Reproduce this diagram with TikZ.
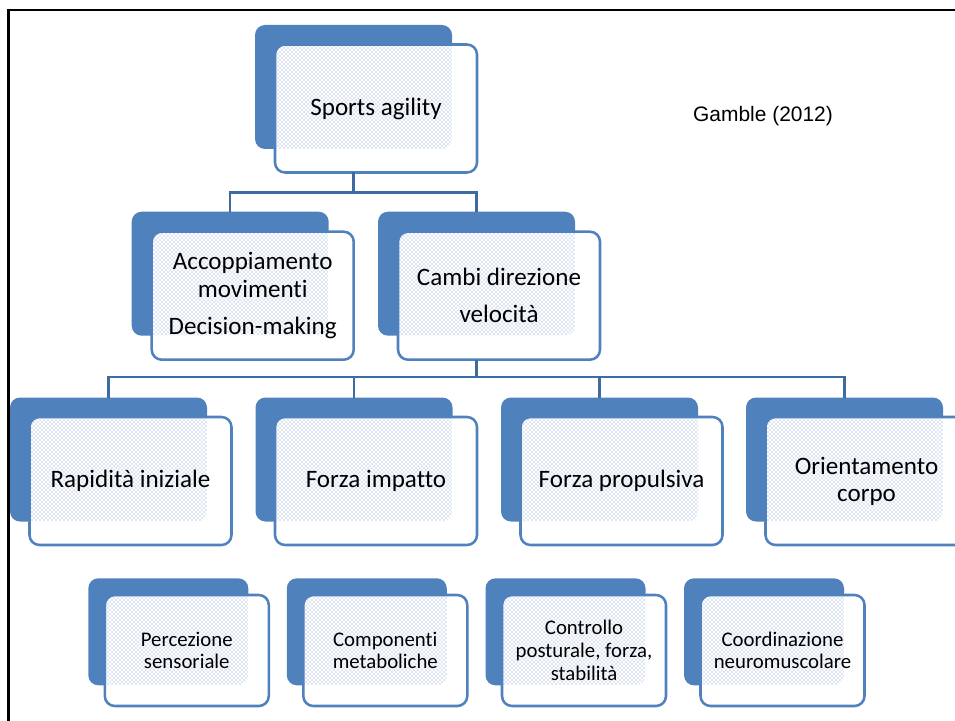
\documentclass[tikz,border=0pt]{standalone}
\usepackage{fontspec}
\setmainfont{Carlito}[Ligatures={NoCommon}]
\newfontfamily\arialfont{Liberation Sans}
\usetikzlibrary{calc,patterns}

\definecolor{accentblue}{RGB}{79,129,189}
\definecolor{linkblue}{RGB}{62,108,162}
\definecolor{dotblue}{RGB}{118,150,206}

\tikzset{
  every node/.style={outer sep=0pt, inner sep=0pt},
  bigback/.style={rectangle, rounded corners=7.5pt, fill=accentblue,
    minimum width=147.75pt, minimum height=93pt},
  bigfront/.style={rectangle, rounded corners=7.5pt, fill=white,
    minimum width=151.5pt, minimum height=96pt},
  smallback/.style={rectangle, rounded corners=7.5pt, fill=accentblue,
    minimum width=120pt, minimum height=80.25pt},
  smallfront/.style={rectangle, rounded corners=7.5pt, fill=white,
    minimum width=123pt, minimum height=83.25pt},
  bigtext/.style={align=center, font=\fontsize{18.8}{20.3}\selectfont},
  smalltext/.style={align=center, font=\fontsize{15.6}{17}\selectfont},
  frontline/.style={draw=accentblue, line width=1.9pt, rounded corners=7.5pt},
  link/.style={draw=linkblue, line width=1.6pt},
  frameline/.style={draw=black, line width=2.2pt},
}

% #1 name, #2 size (big/small), #3 back box corner, #4 offset of the front box, #5 text
\newcommand\agbox[5]{%
  \node[#2back, anchor=north west] (#1-back) at #3 {};
  \node[#2front, anchor=north west] (#1-front) at ($(#1-back.north west)+#4$) {};
  \begin{scope}
    \clip[rounded corners=7.5pt] (#1-front.north west) rectangle (#1-front.south east);
    \fill[pattern=crosshatch dots, pattern color=dotblue, rounded corners=7.5pt]
      (#1-back.north west) rectangle (#1-back.south east);
  \end{scope}
  \draw[frontline] (#1-front.north west) rectangle (#1-front.south east);
  \node[#2text] (#1-label) at (#1-front.center) {#5};
}

\begin{document}
\begin{tikzpicture}[x=0.75pt, y=-0.75pt]
  \useasboundingbox (0,0) rectangle (955,720);
  \clip (0,0) rectangle (955,720);

  % page frame
  \draw[frameline] (8.5,730) -- (8.5,10) -- (965,10);

  % reference
  \node[font=\arialfont\fontsize{15.7}{18}\selectfont] (ref) at (763,116) {Gamble (2012)};

  % top level
  \agbox{sports}{big}{(255,25)}{(20,19.5)}{Sports agility}

  % second level
  \agbox{acc}{big}{(131.7,211.7)}{(20,20)}{Accoppiamento\\[1pt]movimenti\\[7.5pt]Decision-making}
  \agbox{cambi}{big}{(378,211.7)}{(20,20)}{Cambi direzione\\[7.5pt]velocità}

  % third level
  \agbox{rap}{big}{(10,397.5)}{(19.5,19.5)}{Rapidità iniziale}
  \agbox{imp}{big}{(255.5,397.5)}{(19.5,19.5)}{Forza impatto}
  \agbox{prop}{big}{(501,397.5)}{(19.5,19.5)}{Forza propulsiva}
  \agbox{ori}{big}{(746,397.5)}{(19.5,19.5)}{Orientamento\\corpo}

  % bottom row
  \agbox{perc}{small}{(88.3,578.3)}{(16.5,16.7)}{Percezione\\sensoriale}
  \agbox{meta}{small}{(286.8,578.3)}{(16.5,16.7)}{Componenti\\metaboliche}
  \agbox{post}{small}{(485.5,578.3)}{(16.5,16.7)}{Controllo\\posturale, forza,\\stabilità}
  \agbox{coord}{small}{(684,578.3)}{(16.5,16.7)}{Coordinazione\\neuromuscolare}

  % connectors
  \coordinate (busA) at (0,192.5);
  \coordinate (busB) at (0,377);
  \draw[link] (sports-back.center |- sports-front.south) -- (sports-back.center |- busA);
  \draw[link] (acc-back.north) -- (acc-back.north |- busA) -- (cambi-back.north |- busA) -- (cambi-back.north);

  \draw[link] (cambi-back.center |- cambi-front.south) -- (cambi-back.center |- busB);
  \draw[link] (rap-back.north) -- (rap-back.north |- busB) -- (ori-back.north |- busB) -- (ori-back.north);
  \draw[link] (imp-back.north |- busB) -- (imp-back.north);
  \draw[link] (prop-back.north |- busB) -- (prop-back.north);
\end{tikzpicture}
\end{document}
